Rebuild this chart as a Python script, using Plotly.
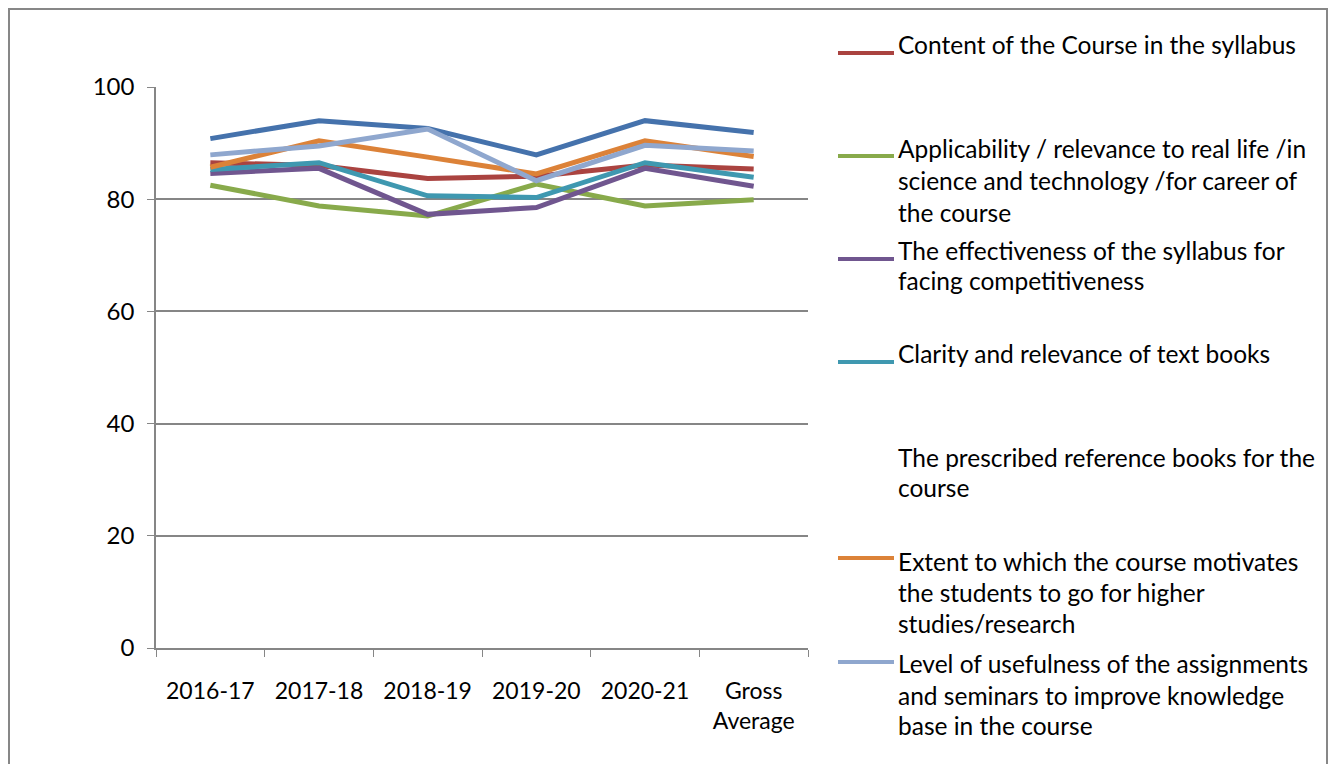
import plotly.graph_objects as go

# categories on the x axis
years = ["2016-17", "2017-18", "2018-19", "2019-20", "2020-21", "Gross<br>Average"]

# series values (percent)
unlabelled_blue = [90.8, 94.0, 92.6, 87.9, 94.0, 91.9]
content = [86.5, 86.0, 83.7, 84.1, 86.1, 85.4]
applicability = [82.5, 78.8, 77.0, 82.7, 78.8, 79.9]
effectiveness = [84.6, 85.5, 77.3, 78.5, 85.5, 82.3]
clarity = [85.3, 86.5, 80.6, 80.3, 86.5, 83.9]
extent = [85.7, 90.4, 87.5, 84.5, 90.4, 87.6]
usefulness = [87.9, 89.5, 92.5, 83.3, 89.6, 88.6]

legend_names = [
    ["Content of the Course in the syllabus"],
    ["Applicability / relevance to real life /in", "science and technology /for career of", "the course"],
    ["The effectiveness of the syllabus for", "facing competitiveness"],
    ["Clarity and relevance of text books"],
    ["The prescribed reference books for the", "course"],
    ["Extent to which the course motivates", "the students to go for higher", "studies/research"],
    ["Level of usefulness of the assignments", "and seminars to improve knowledge", "base in the course"],
]

FONT = "Lato"
GRID = "#868686"

# plot area in page pixels (the page body adds an 8px margin)
L, R, T, B = 156, 808, 87, 648
W, H = 1320, 756


def px(x):
    return (x - L) / (R - L)


def py(y):
    return (B - y) / (B - T)


series = [
    (unlabelled_blue, "#4572AC"),
    (content, "#AA4340"),
    (applicability, "#88AA4B"),
    (effectiveness, "#70568F"),
    (clarity, "#3F98B0"),
    (extent, "#DC8238"),
    (usefulness, "#8FA7CE"),
]

fig = go.Figure()
for vals, color in series:
    fig.add_trace(go.Scatter(x=years, y=vals, mode="lines",
                             line=dict(color=color, width=5),
                             showlegend=False, hoverinfo="skip"))

# hand drawn legend, laid out like the original
legend_colors = ["#AA4340", "#88AA4B", "#70568F", "#3F98B0", None, "#DC8238", "#8FA7CE"]
text_rows = [[45], [148, 180, 212], [250, 280], [353], [457, 487], [561, 592, 623], [663, 695, 725]]
key_rows = [53, 156, 259, 362, None, 558, 662]

annotations = []
shapes = []
for names, rows, key, color in zip(legend_names, text_rows, key_rows, legend_colors):
    for line, y in zip(names, rows):
        annotations.append(dict(x=px(896), y=py(y), xref="paper", yref="paper",
                                text=line, showarrow=False, xanchor="left",
                                yanchor="middle", font=dict(family=FONT, size=24.5, color="black")))
    if color is not None:
        shapes.append(dict(type="line", xref="paper", yref="paper",
                           x0=px(838), x1=px(894), y0=py(key), y1=py(key),
                           line=dict(color=color, width=4)))

# outer chart border
shapes.append(dict(type="rect", xref="paper", yref="paper",
                   x0=px(9), x1=px(1327), y0=py(9), y1=py(790),
                   line=dict(color="#878787", width=2), layer="below"))

fig.update_layout(
    width=W, height=H,
    margin=dict(l=L - 8, r=1328 - R, t=T - 8, b=764 - B),
    paper_bgcolor="white", plot_bgcolor="white",
    font=dict(family=FONT, size=23, color="black"),
    annotations=annotations, shapes=shapes,
    showlegend=False,
)
fig.update_xaxes(range=[-0.5, 5.5], showline=True, linecolor=GRID, linewidth=1.5,
                 ticks="outside", tickson="boundaries", ticklen=7, tickcolor=GRID,
                 showgrid=False, ticklabelstandoff=22)
fig.update_yaxes(range=[0, 100], dtick=20, showline=True, linecolor=GRID, linewidth=1.5,
                 ticks="outside", ticklen=7, tickcolor=GRID, tickfont=dict(size=24),
                 gridcolor=GRID, gridwidth=1.5, zeroline=False, ticklabelstandoff=8)

fig.write_html("out.html")
